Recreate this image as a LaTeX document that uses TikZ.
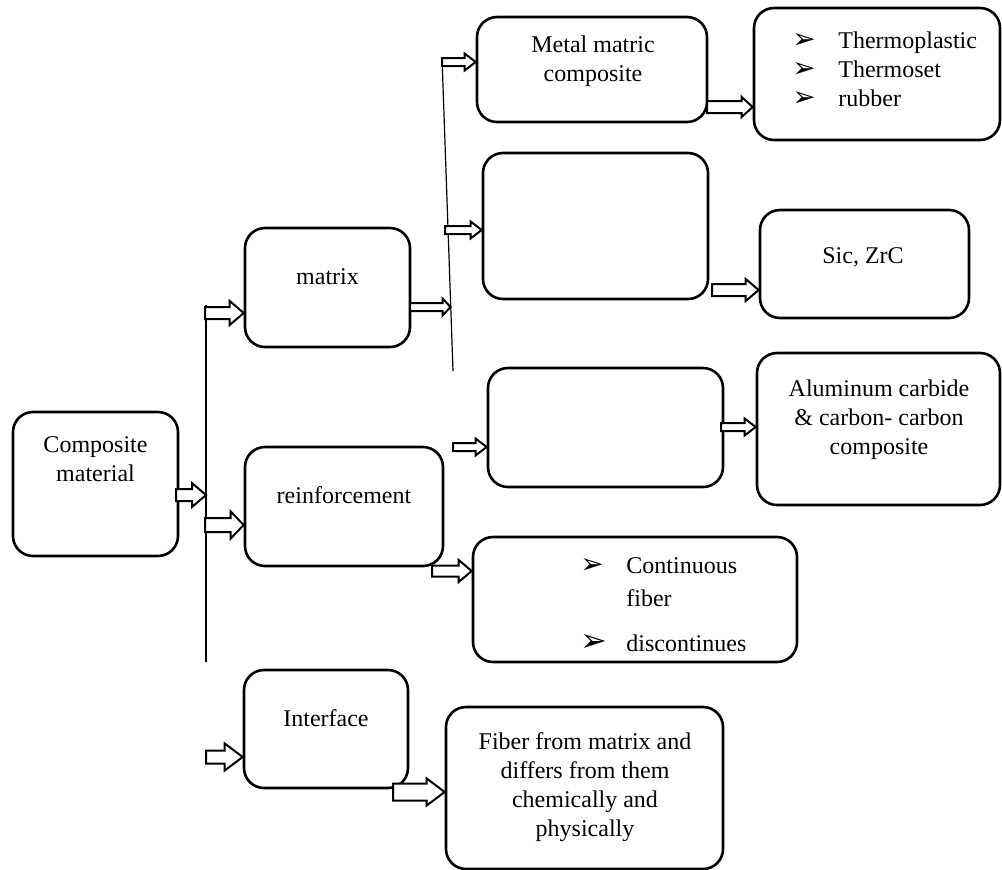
\documentclass[tikz,border=0pt]{standalone}
\usepackage{fontspec}
\setmainfont{Liberation Serif}
\newfontfamily\bulletfont{DejaVu Sans}
\usetikzlibrary{calc}

\newcommand{\bul}[1][14]{\makebox[23pt][l]{\bulletfont\fontsize{#1}{#1}\selectfont ➢}}

\tikzset{
  arrow size/.code args={#1/#2/#3}{\def\shafthalf{#1}\def\headhalf{#2}\def\headlen{#3}},
  big arrow/.style={arrow size=3pt/6pt/7pt},
  small arrow/.style={arrow size=2pt/4.2pt/5.5pt},
}

\newcommand{\blockarrow}[3][big arrow]{%
  \draw[arrowline, #1] let \p1=(#2), \p2=(#3) in
    (\x1,\y1+\shafthalf) -- (\x2-\headlen,\y1+\shafthalf) -- (\x2-\headlen,\y1+\headhalf)
    -- (\x2,\y1) -- (\x2-\headlen,\y1-\headhalf) -- (\x2-\headlen,\y1-\shafthalf)
    -- (\x1,\y1-\shafthalf) -- cycle;}

\begin{document}
\begin{tikzpicture}[x=0.5pt, y=-0.5pt,
    every node/.style={font=\fontsize{12}{14.5}\selectfont},
    roundbox/.style={draw, line width=1.3pt, rounded corners=10pt, inner sep=0pt},
    txt/.style={align=center, inner sep=0pt},
    arrowline/.style={draw, fill=white, line width=1pt, line join=miter},
    divider/.style={line width=0.6pt}]

        \useasboundingbox (0,0) rectangle (1002,869);

        \node [roundbox, minimum width=82.5pt, minimum height=72pt] (composite) at (95.5,484) {};
        \node [roundbox, minimum width=82.5pt, minimum height=59.5pt] (matrix) at (327.5,287.5) {};
        \node [roundbox, minimum width=99pt, minimum height=59.5pt] (reinforcement) at (344,506.5) {};
        \node [roundbox, minimum width=82pt, minimum height=59pt] (interface) at (326,729) {};

        \node [roundbox, minimum width=115pt, minimum height=52.5pt] (metal) at (592,69.5) {};
        \node [roundbox, minimum width=112.5pt, minimum height=73pt] (upperbox) at (595.5,226) {};
        \node [roundbox, minimum width=117.5pt, minimum height=59.5pt] (lowerbox) at (605.5,427.5) {};
        \node [roundbox, minimum width=162pt, minimum height=62.5pt] (fibertype) at (635,599.5) {};
        \node [roundbox, minimum width=138.5pt, minimum height=81pt] (bond) at (584.5,788) {};

        \node [roundbox, minimum width=123pt, minimum height=66pt] (polymers) at (877,74) {};
        \node [roundbox, minimum width=104.5pt, minimum height=54pt] (carbides) at (864.5,264) {};
        \node [roundbox, minimum width=121.5pt, minimum height=76pt] (aluminum) at (878.5,429) {};

        % texts
        \node [txt] (composite-t) at (95.5,459) {Composite\\material};
        \node [txt] (matrix-t) at (327.5,277) {matrix};
        \node [txt] (reinforcement-t) at (344,495) {reinforcement};
        \node [txt] (interface-t) at (326,718) {Interface};
        \node [txt] (metal-t) at (593,61.5) {Metal matric\\composite};
        \node [txt] (carbides-t) at (863,257) {Sic, ZrC};
        \node [txt] (aluminum-t) at (879,420) {Aluminum carbide\\\& carbon- carbon\\composite};
        \node [txt] (bond-t) at (585,787) {Fiber from matrix and\\differs from them\\chemically and\\physically};
        \node [txt, align=left, anchor=west] (polymers-t) at (792,69) {\bul Thermoplastic\\\bul Thermoset\\\bul rubber};
        \node [txt, align=left, anchor=west] (fibertype-t) at (580,605) {\bul Continuous\\[2pt]\hspace*{23pt}fiber\\[8pt]\bul[16]discontinues};

        % divider lines
        \coordinate (trunktop) at (206,305);
        \coordinate (trunkbot) at (206,662);
        \coordinate (branchtop) at (442,57);
        \coordinate (branchbot) at (453,371);
        \draw [divider] (trunktop) -- (trunkbot);
        \draw [divider] (branchtop) -- (branchbot);

        % block arrows
        \coordinate (composite-out) at (176,495);
        \coordinate (to-matrix) at (205,313);
        \coordinate (to-reinforcement) at (205,525);
        \coordinate (to-interface) at (206,757);
        \coordinate (matrix-out) at (410,307);
        \coordinate (branch-hit) at (450.5,307);
        \coordinate (to-metal) at (442,62);
        \coordinate (to-upperbox) at (445,230);
        \coordinate (to-lowerbox) at (453,447);
        \coordinate (metal-out) at (707,107);
        \coordinate (upperbox-out) at (712,290);
        \coordinate (lowerbox-out) at (721,427);
        \coordinate (reinforcement-out) at (432,571);
        \coordinate (interface-out) at (393,792);

        \blockarrow{composite-out}{composite-out -| trunktop}
        \blockarrow{to-matrix}{to-matrix -| matrix.west}
        \blockarrow[arrow size=3.5pt/6.75pt/6.5pt]{to-reinforcement}{to-reinforcement -| reinforcement.west}
        \blockarrow[arrow size=3.25pt/6.75pt/9pt]{to-interface}{to-interface -| interface.west}
        \blockarrow[arrow size=2pt/4.25pt/4pt]{matrix-out}{branch-hit}
        \blockarrow[small arrow]{to-metal}{to-metal -| metal.west}
        \blockarrow[small arrow]{to-upperbox}{to-upperbox -| upperbox.west}
        \blockarrow[small arrow]{to-lowerbox}{to-lowerbox -| lowerbox.west}
        \blockarrow[arrow size=3pt/5pt/5.5pt]{metal-out}{metal-out -| polymers.west}
        \blockarrow[arrow size=3pt/5.5pt/6.5pt]{upperbox-out}{upperbox-out -| carbides.west}
        \blockarrow[small arrow]{lowerbox-out}{lowerbox-out -| aluminum.west}
        \blockarrow[arrow size=2.75pt/5.5pt/6.5pt]{reinforcement-out}{reinforcement-out -| fibertype.west}
        \blockarrow[arrow size=4.25pt/6.75pt/9pt]{interface-out}{interface-out -| bond.west}

    \end{tikzpicture}
\end{document}
